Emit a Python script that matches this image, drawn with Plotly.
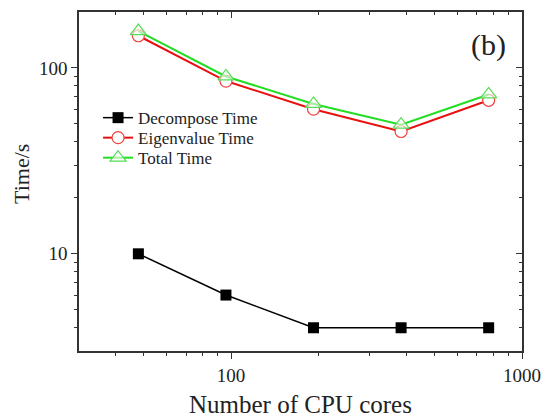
import plotly.graph_objects as go

cores = [48, 96, 192, 384, 768]
decompose_time = [10, 6, 4, 4, 4]
eigenvalue_time = [149, 85, 60, 45.5, 67]
total_time = [158, 90, 64, 49.5, 72]

x_major = [100, 1000]
x_minor = [40, 50, 60, 70, 80, 90, 200, 300, 400, 500, 600, 700, 800, 900]
y_major = [10, 100]
y_minor = [4, 5, 6, 7, 8, 9, 20, 30, 40, 50, 60, 70, 80, 90]

FONT = "Liberation Serif, Times New Roman, serif"
AX = "#333333"

fig = go.Figure()
fig.add_trace(go.Scatter(x=cores, y=decompose_time, mode="lines+markers", name="Decompose Time",
                         legend="legend",
                         line=dict(color="black", width=1.5),
                         marker=dict(symbol="square", size=11, color="black")))
fig.add_trace(go.Scatter(x=cores, y=eigenvalue_time, mode="lines+markers", name="Eigenvalue Time",
                         legend="legend2",
                         line=dict(color="#e81010", width=2),
                         marker=dict(symbol="circle", size=12, color="white",
                                     line=dict(color="#f04040", width=1.2))))
fig.add_trace(go.Scatter(x=cores, y=total_time, mode="lines+markers", name="Total Time",
                         legend="legend3",
                         line=dict(color="#22dd22", width=2),
                         marker=dict(symbol="triangle-up", size=14, color="rgba(255,255,255,0.6)",
                                     line=dict(color="#55dd55", width=1.2))))
fig.add_trace(go.Scatter(x=[], y=[], xaxis="x2", yaxis="y2", showlegend=False))

common = dict(type="log", showgrid=False, zeroline=False, showline=True, linecolor=AX, linewidth=1.5,
              tickcolor=AX, tickwidth=1.2, ticklen=6, automargin=False,
              tickfont=dict(family=FONT, size=19, color="#222"))

leg = dict(xanchor="left", yanchor="middle", font=dict(family=FONT, size=17, color="#222"),
           bgcolor="rgba(0,0,0,0)", itemwidth=30)

fig.update_layout(
    width=545, height=419,
    margin=dict(l=79, r=23, t=12, b=68),
    paper_bgcolor="white", plot_bgcolor="white",
    showlegend=True,
    legend=dict(x=0.043, y=0.687, **leg),
    legend2=dict(x=0.043, y=0.628, **leg),
    legend3=dict(x=0.043, y=0.569, **leg),
    xaxis=dict(range=[1.4771, 3], tickmode="array", tickvals=x_major, ticktext=["100", "1000"],
               ticks="outside",
               minor=dict(tickmode="array", tickvals=x_minor, ticks="outside", ticklen=3.5, tickcolor=AX),
               **common),
    yaxis=dict(range=[0.4771, 2.30103], tickmode="array", tickvals=y_major, ticktext=["10", "100"],
               ticks="outside",
               minor=dict(tickmode="array", tickvals=y_minor, ticks="outside", ticklen=3.5, tickcolor=AX),
               **common),
    xaxis2=dict(range=[1.4771, 3], overlaying="x", side="top", anchor="y", tickmode="array",
                tickvals=x_major, ticks="inside", showticklabels=False,
                minor=dict(tickmode="array", tickvals=x_minor, ticks="inside", ticklen=3.5, tickcolor=AX),
                **common),
    yaxis2=dict(range=[0.4771, 2.30103], overlaying="y", side="right", anchor="x", tickmode="array",
                tickvals=y_major, ticks="inside", showticklabels=False,
                minor=dict(tickmode="array", tickvals=y_minor, ticks="inside", ticklen=3.5, tickcolor=AX),
                **common),
    annotations=[
        dict(text="Number of CPU cores", xref="paper", yref="paper", x=0.501, y=-0.159,
             xanchor="center", yanchor="middle", showarrow=False,
             font=dict(family=FONT, size=25, color="#222")),
        dict(text="Time/s", xref="paper", yref="paper", x=-0.131, y=0.522, textangle=-90,
             xanchor="center", yanchor="middle", showarrow=False,
             font=dict(family=FONT, size=22, color="#222")),
        dict(text="(b)", xref="paper", yref="paper", x=0.925, y=0.903,
             xanchor="center", yanchor="middle", showarrow=False,
             font=dict(family=FONT, size=30, color="#222")),
    ],
)

fig.write_html("out.html", config={"displayModeBar": False},
               post_script="document.body.style.margin='0';document.body.style.overflow='hidden';")
